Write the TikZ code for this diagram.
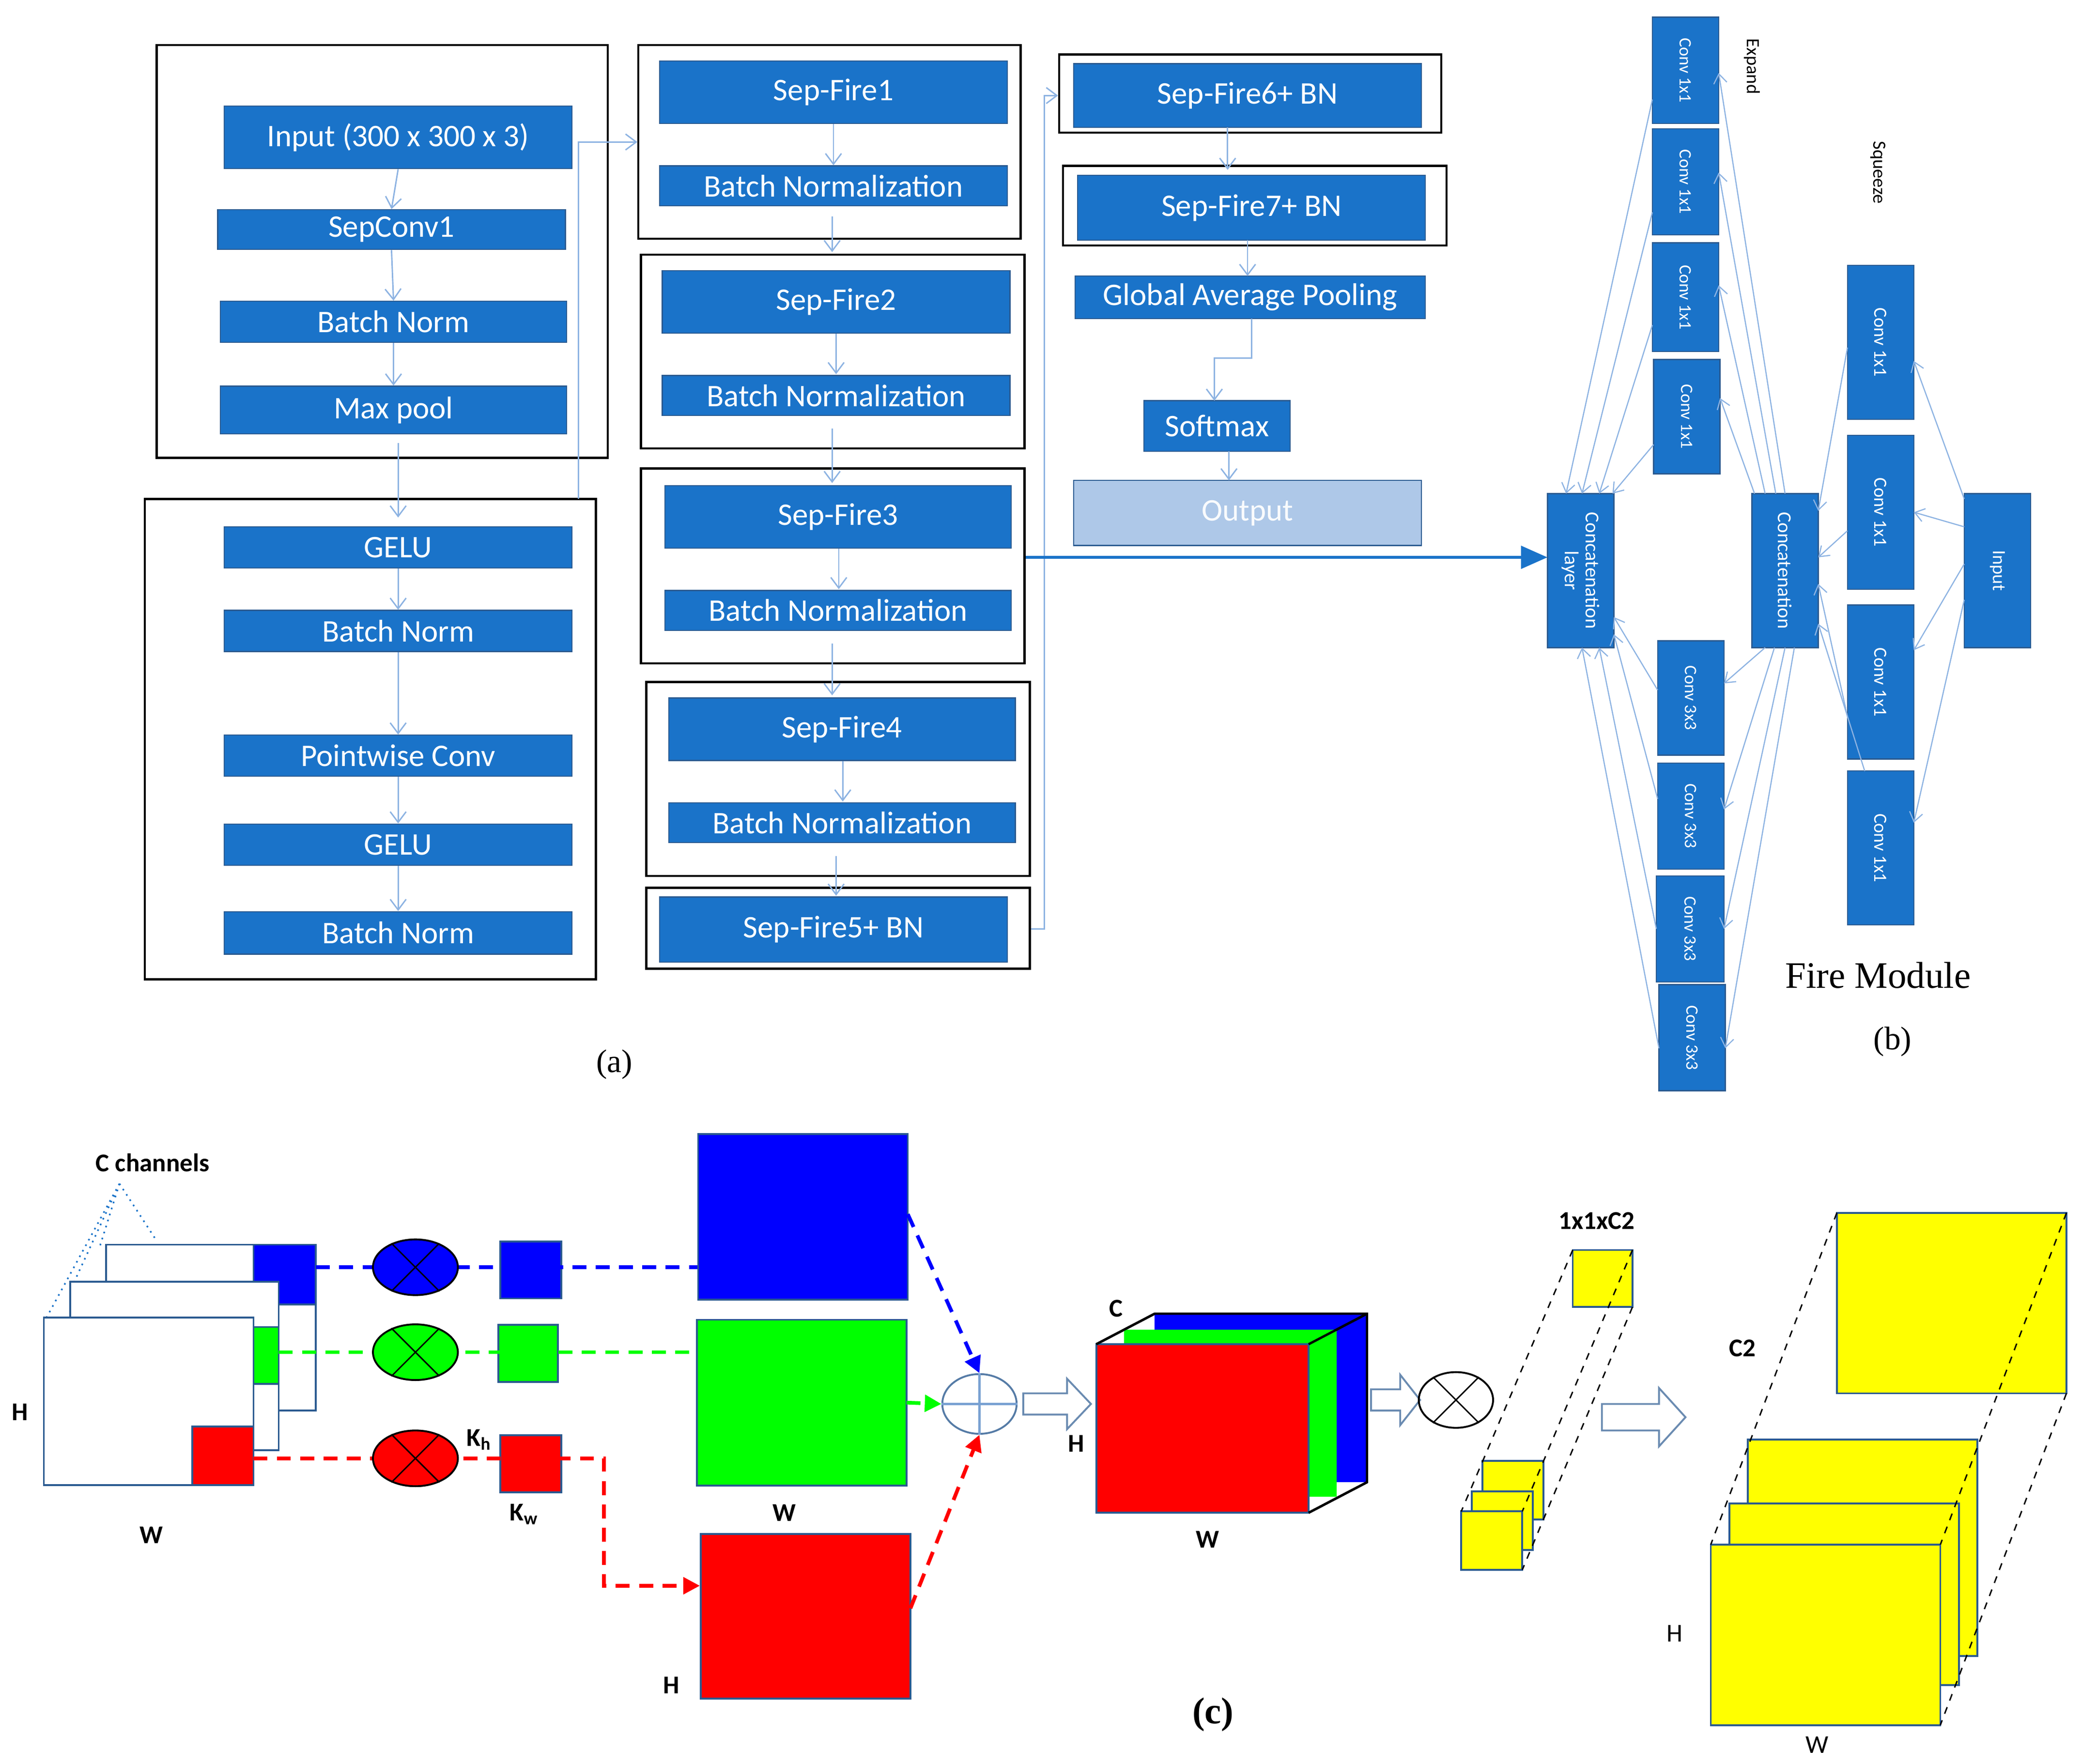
\documentclass[tikz,border=0pt]{standalone}
\usepackage{fontspec}
\setmainfont{Carlito}
\newfontfamily\serf{Liberation Serif}
\usetikzlibrary{arrows.meta,shapes.geometric,calc}
\definecolor{bblue}{HTML}{1A73C9}
\definecolor{bedge}{HTML}{2A5A90}
\definecolor{lblue}{HTML}{8DB3E2}
\definecolor{outc}{HTML}{AEC8E8}
\definecolor{pblue}{HTML}{0000FF}
\definecolor{pgreen}{HTML}{00FF00}
\definecolor{pred}{HTML}{FF0000}
\definecolor{pyel}{HTML}{FFFF00}
\newcommand\bxn[7][]{\node[box,#1,minimum width={(#5-#3)*0.02cm},minimum height={(#6-#4)*0.02cm}] (#2) at ({(#3+#5)/2},{(#4+#6)/2}) {#7};}
\newcommand\rbx[7][]{\node[box,rotate=-90,#1,minimum width={(#6-#4)*0.02cm},minimum height={(#5-#3)*0.02cm}] (#2) at ({(#3+#5)/2},{(#4+#6)/2}) {#7};}
\newcommand\frm[5]{\node[frame,minimum width={(#4-#2)*0.02cm},minimum height={(#5-#3)*0.02cm}] (#1) at ({(#2+#4)/2},{(#3+#5)/2}) {};}
\tikzset{
 box/.style={draw=bedge,line width=0.5pt,fill=bblue,text=white,inner sep=0pt,font=\fontsize{13.5}{14}\selectfont},
 rb/.style={font=\fontsize{7.5}{8.5}\selectfont,align=center},
 frame/.style={draw=black,line width=0.9pt,inner sep=0pt},
 la/.style={draw=lblue,line width=0.6pt,-{Straight Barb[length=1.6mm,width=2.4mm]}},
 fa/.style={draw=lblue,line width=0.5pt,-{Straight Barb[length=1.4mm,width=2mm]}},
 lbl/.style={font=\bfseries\fontsize{11}{12}\selectfont},
 sq/.style={draw=bedge,line width=0.8pt,inner sep=0pt},
 hol/.style={draw=bedge!70,line width=0.8pt,fill=white},
 dsh/.style={dashed,line width=1.6pt,dash pattern=on 6pt off 4pt},
}
\begin{document}
\begin{tikzpicture}[x=0.02cm,y=-0.02cm]
\useasboundingbox (0,0) rectangle (1568,1329);
% ---------- (a) column 1
\frm{f1}{118}{34}{458}{345}
\bxn{inp}{169}{80}{431}{127}{Input (300 x 300 x 3)}
\bxn{sc1}{164}{158}{426}{188}{SepConv1}
\bxn{bn1}{166}{227}{427}{258}{Batch Norm}
\bxn{mp}{166}{291}{427}{327}{Max pool}
\frm{f2}{109}{376}{449}{738}
\bxn{g1}{169}{397}{431}{428}{GELU}
\bxn{bn2}{169}{460}{431}{491}{Batch Norm}
\bxn{pw}{169}{554}{431}{585}{Pointwise Conv}
\bxn{g2}{169}{621}{431}{652}{GELU}
\bxn{bn3}{169}{687}{431}{719}{Batch Norm}
\draw[la] (inp.south) -- (sc1.north);
\draw[la] (sc1.south) -- (bn1.north);
\draw[la] (bn1.south) -- (mp.north);
\draw[la] (300,334) -- (300,390);
\draw[la] (g1.south) -- (bn2.north);
\draw[la] (bn2.south) -- (pw.north);
\draw[la] (pw.south) -- (g2.north);
\draw[la] (g2.south) -- (bn3.north);
% ---------- column 2
\frm{f3}{481}{34}{769}{180}
\bxn{sf1}{497}{46}{759}{93}{Sep-Fire1}
\bxn{b1}{497}{125}{759}{155}{Batch Normalization}
\frm{f4}{483}{192}{772}{338}
\bxn{sf2}{499}{204}{761}{251}{Sep-Fire2}
\bxn{b2}{499}{283}{761}{313}{Batch Normalization}
\frm{f5}{483}{353}{772}{500}
\bxn{sf3}{501}{366}{762}{413}{Sep-Fire3}
\bxn{b3}{501}{445}{762}{475}{Batch Normalization}
\frm{f6}{487}{514}{776}{660}
\bxn{sf4}{504}{526}{765}{573}{Sep-Fire4}
\bxn{b4}{504}{605}{765}{635}{Batch Normalization}
\frm{f7}{487}{669}{776}{730}
\bxn{sf5}{497}{676}{759}{725}{Sep-Fire5+ BN}
\draw[la] (436,376) -- (436,107) -- (f3.west|-0,107);
\draw[la] (sf1.south) -- (b1.north-|sf1.south);
\draw[la] (627,163) -- (627,190);
\draw[la] (sf2.south-|630,0) -- (630,282);
\draw[la] (627,323) -- (627,364);
\draw[la] (sf3.south-|632,0) -- (632,444);
\draw[la] (627,485) -- (627,524);
\draw[la] (sf4.south-|635,0) -- (635,604);
\draw[la] (630,645) -- (630,675);
% ---------- column 3
\frm{f8}{798}{41}{1086}{100}
\bxn{sf6}{809}{48}{1071}{96}{Sep-Fire6+ BN}
\frm{f9}{801}{125}{1090}{185}
\bxn{sf7}{812}{132}{1074}{181}{Sep-Fire7+ BN}
\bxn{gap}{810}{208}{1074}{240}{Global Average Pooling}
\bxn{smx}{862}{302}{972}{340}{Softmax}
\bxn[fill=outc,draw=bedge,text=white!92!outc]{out}{809}{362}{1071}{411}{Output}
\draw[la] (f7.east|-0,700) -- (787,700) -- (787,72) -- (f8.west|-0,72);
\draw[la] (925,96) -- (925,128);
\draw[la] (940,181) -- (940,208);
\draw[la] (943,240) -- (943,270) -- (915,270) -- (915,302);
\draw[la] (926,340) -- (926,362);
\node[font=\serf\fontsize{14}{16}\selectfont] (la) at (463,802) {(a)};
% ---------- (b) fire module
\rbx[rb]{e1}{1245}{13}{1295}{93}{Conv 1x1}
\rbx[rb]{e2}{1245}{97}{1295}{177}{Conv 1x1}
\rbx[rb]{e3}{1245}{183}{1295}{265}{Conv 1x1}
\rbx[rb]{e4}{1246}{271}{1296}{357}{Conv 1x1}
\rbx[rb]{t1}{1249}{483}{1299}{569}{Conv 3x3}
\rbx[rb]{t2}{1249}{575}{1299}{655}{Conv 3x3}
\rbx[rb]{t3}{1248}{660}{1299}{740}{Conv 3x3}
\rbx[rb]{t4}{1250}{742}{1300}{822}{Conv 3x3}
\rbx[rb,font=\fontsize{8.5}{9}\selectfont]{cl}{1166}{372}{1216}{488}{Concatenation\\layer}
\rbx[rb,font=\fontsize{8.5}{9}\selectfont]{cc}{1320}{372}{1370}{488}{Concatenation}
\rbx[rb,font=\fontsize{8}{9}\selectfont]{q1}{1392}{200}{1442}{316}{Conv 1x1}
\rbx[rb,font=\fontsize{8}{9}\selectfont]{q2}{1392}{328}{1442}{444}{Conv 1x1}
\rbx[rb,font=\fontsize{8}{9}\selectfont]{q3}{1392}{456}{1442}{572}{Conv 1x1}
\rbx[rb,font=\fontsize{8}{9}\selectfont]{q4}{1392}{581}{1442}{697}{Conv 1x1}
\rbx[rb,font=\fontsize{8}{9}\selectfont]{fin}{1480}{372}{1530}{488}{Input}
\node[rotate=-90,font=\fontsize{8}{9}\selectfont] (exl) at (1320,50) {Expand};
\node[rotate=-90,font=\fontsize{8}{9}\selectfont] (sql) at (1415,130) {Squeeze};
\node[font=\serf\fontsize{16}{18}\selectfont] (fml) at (1415,735) {Fire Module};
\node[font=\serf\fontsize{14}{16}\selectfont] (lb) at (1426,785) {(b)};
\draw[fa] (1480,376) -- (1442,272);
\draw[fa] (1480,397) -- (1442,386);
\draw[fa] (1480,425) -- (1442,490);
\draw[fa] (1480,452) -- (1442,620);
\draw[fa] (1392,262) -- (1370,385);
\draw[fa] (1392,400) -- (1370,420);
\draw[fa] (1392,540) -- (1370,440);
\draw[fa] (1405,581) -- (1370,470);
\draw[fa] (1345,372) -- (1295,55);
\draw[fa] (1338,372) -- (1295,130);
\draw[fa] (1330,372) -- (1295,215);
\draw[fa] (1322,372) -- (1296,300);
\draw[fa] (1330,488) -- (1299,515);
\draw[fa] (1337,488) -- (1299,610);
\draw[fa] (1345,488) -- (1299,700);
\draw[fa] (1352,488) -- (1300,790);
\draw[fa] (1245,75) -- (1180,372);
\draw[fa] (1245,160) -- (1192,372);
\draw[fa] (1245,245) -- (1205,372);
\draw[fa] (1246,335) -- (1215,372);
\draw[fa] (1249,520) -- (1216,465);
\draw[fa] (1249,602) -- (1216,478);
\draw[fa] (1248,700) -- (1205,488);
\draw[fa] (1250,790) -- (1192,488);
\draw[draw=bblue,line width=1.4pt,-{Triangle[length=4mm,width=3.4mm]}] (f5.east|-0,420) -- (1166,420);
% ---------- (c)
\node[lbl] (cch) at (115,876) {C channels};
\coordinate (ap) at (90,892);
\draw[draw=bblue,dotted,line width=0.7pt] (ap) -- (35,993) (ap) -- (55,968) (ap) -- (75,940) (ap) -- (118,935);
\draw[sq,fill=white] (80,938) rectangle (238,1063);
\fill[pblue] (191,938) rectangle (238,983); \draw[sq] (191,938) rectangle (238,983);
\draw[sq,fill=white] (53,966) rectangle (210,1093);
\fill[pgreen] (191,1000) rectangle (210,1043); \draw[sq] (191,1000) rectangle (210,1043);
\draw[sq,fill=white] (33,993) rectangle (191,1119);
\draw[sq,fill=pred] (145,1075) rectangle (191,1119);
\node[lbl] (h1) at (15,1064) {H};
\node[lbl] (w1) at (114,1157) {W};
\node[sq,fill=pblue,minimum width=0.92cm,minimum height=0.86cm] (ks1) at (400,957) {};
\node[sq,fill=pgreen,minimum width=0.9cm,minimum height=0.86cm] (ks2) at (398,1020) {};
\node[sq,fill=pred,minimum width=0.92cm,minimum height=0.86cm] (ks3) at (400,1103) {};
\node[sq,fill=pblue,minimum width=3.16cm,minimum height=2.5cm] (bs1) at (605,917) {};
\node[sq,fill=pgreen,minimum width=3.16cm,minimum height=2.5cm] (bs2) at (604,1057) {};
\node[sq,fill=pred,minimum width=3.16cm,minimum height=2.48cm] (bs3) at (607,1218) {};
\draw[dsh,pblue] (238,955) -- (bs1.west|-0,955);
\draw[dsh,pgreen] (210,1019) -- (bs2.west|-0,1019);
\draw[dsh,pred,-{Triangle[length=2.5mm,width=2.5mm]}] (191,1099) -- (455,1099) -- (455,1195) -- (bs3.west|-0,1195);
\foreach \n/\c/\yy in {o1/pblue/955,o2/pgreen/1019,o3/pred/1099}{
 \node[ellipse,draw=black,line width=0.8pt,fill=\c,minimum width=1.28cm,minimum height=0.84cm,inner sep=0] (\n) at (313,\yy) {};
 \draw[line width=0.6pt] (\n.45) -- (\n.225) (\n.135) -- (\n.315);}
\node[lbl] (kh) at (361,1085) {K\textsubscript{h}};
\node[lbl] (kw) at (395,1141) {K\textsubscript{w}};
\node[lbl] (w2) at (591,1140) {W};
\node[lbl] (h2) at (506,1270) {H};
\node[ellipse,draw=bedge!80,line width=0.8pt,minimum width=1.12cm,minimum height=0.9cm,inner sep=0] (op) at (738,1058) {};
\draw[draw=lblue!80!bedge,line width=1pt] (op.north) -- (op.south) (op.west) -- (op.east);
\draw[dsh,pblue,-{Triangle[length=2.5mm,width=2.5mm]}] (684,915) -- (op.north);
\draw[dsh,pgreen,-{Triangle[length=2.5mm,width=2.5mm]}] (683,1057) -- (op.west);
\draw[dsh,pred,-{Triangle[length=2.5mm,width=2.5mm]}] (686,1212) -- (op.south);
\draw[hol] (771,1050) -- (804,1050) -- (804,1039) -- (822,1058) -- (804,1077) -- (804,1066) -- (771,1066) -- cycle;
% cube
\fill[pblue] (870,990) rectangle (1030,1117);
\draw[line width=1pt] (826,1013) -- (870,990) -- (1030,990) -- (1030,1117) -- (986,1140);
\draw[line width=1pt] (986,1013) -- (1030,990);
\fill[pgreen] (847,1002) rectangle (1007,1128);
\node[sq,fill=pred,minimum width=3.2cm,minimum height=2.54cm] (cube) at (906,1076.5) {};
\draw[line width=1pt] (826,1013) -- (870,990) (986,1013) -- (1030,990) (986,1140) -- (1030,1117);
\node[lbl] (cl2) at (841,986) {C};
\node[lbl] (h3) at (811,1088) {H};
\node[lbl] (w3) at (910,1160) {W};
\draw[hol] (1033,1047) -- (1055,1047) -- (1055,1036) -- (1070,1055) -- (1055,1074) -- (1055,1063) -- (1033,1063) -- cycle;
\node[ellipse,draw=black,line width=0.8pt,minimum width=1.12cm,minimum height=0.84cm,inner sep=0] (ox) at (1097,1055) {};
\draw[line width=0.6pt] (ox.45) -- (ox.225) (ox.135) -- (ox.315);
% small yellow
\draw[sq,fill=pyel] (1117,1101) rectangle (1163,1145);
\draw[sq,fill=pyel] (1109,1124) rectangle (1155,1168);
\draw[sq,fill=pyel] (1101,1139) rectangle (1147,1183);
\draw[sq,fill=pyel] (1185,942) rectangle (1230,985);
\draw[dashed,line width=0.6pt] (1185,942) -- (1101,1139) (1230,942) -- (1147,1139) (1230,985) -- (1147,1183);
\node[lbl] (c21) at (1203,920) {1x1xC2};
\draw[hol] (1207,1058) -- (1250,1058) -- (1250,1046) -- (1270,1068) -- (1250,1090) -- (1250,1078) -- (1207,1078) -- cycle;
% big yellow
\draw[sq,fill=pyel] (1317,1085) rectangle (1490,1248);
\draw[sq,fill=pyel] (1303,1133) rectangle (1476,1270);
\draw[sq,fill=pyel] (1289,1164) rectangle (1462,1300);
\draw[sq,fill=pyel] (1384,914) rectangle (1557,1050);
\draw[dashed,line width=0.6pt] (1384,914) -- (1289,1164) (1557,914) -- (1462,1164) (1557,1050) -- (1462,1300);
\node[lbl] (c22) at (1313,1016) {C2};
\node[font=\fontsize{11}{12}\selectfont] (h4) at (1262,1231) {H};
\node[font=\fontsize{11}{12}\selectfont] (w4) at (1369,1315) {W};
\node[font=\serf\bfseries\fontsize{16}{18}\selectfont] (lc) at (914,1292) {(c)};
\end{tikzpicture}
\end{document}
